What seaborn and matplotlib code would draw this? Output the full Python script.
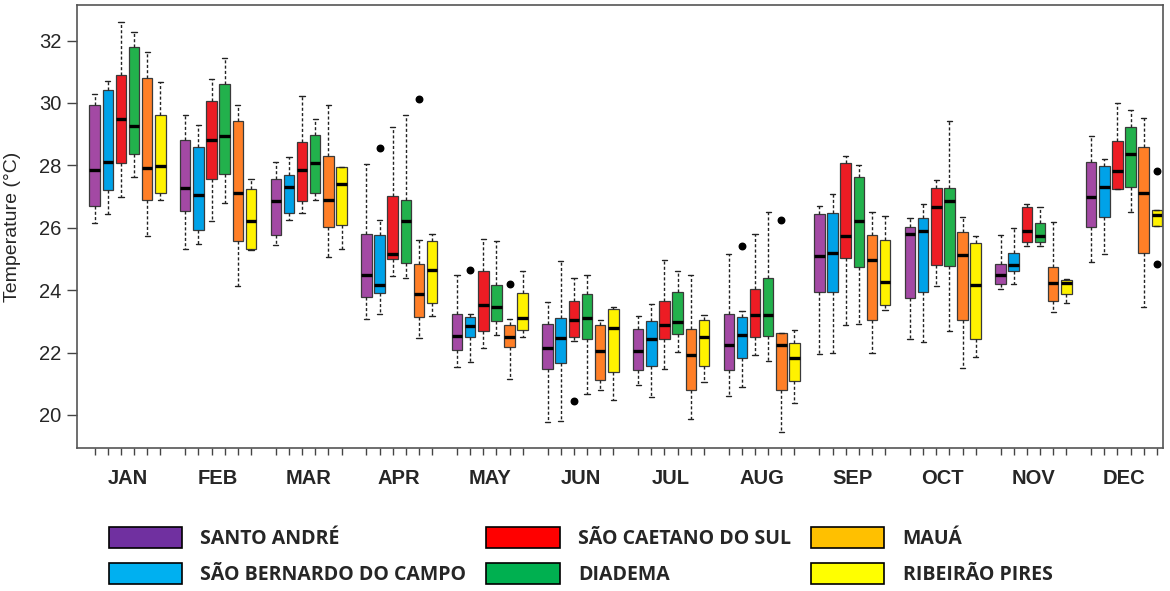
import numpy as np
import pandas as pd
import matplotlib
matplotlib.use('Agg')
import matplotlib.pyplot as plt
from matplotlib.patches import Patch
import seaborn as sns

# Months and cities (hue order)
months = ['JAN', 'FEB', 'MAR', 'APR', 'MAY', 'JUN', 'JUL', 'AUG', 'SEP', 'OCT', 'NOV', 'DEC']
cities = ['SANTO ANDRÉ', 'SÃO BERNARDO DO CAMPO', 'SÃO CAETANO DO SUL',
          'DIADEMA', 'MAUÁ', 'RIBEIRÃO PIRES']

box_colors = ['#A349A4', '#00A2E8', '#ED1C24', '#22B14C', '#FF7F27', '#FFF200']
legend_colors = ['#7030A0', '#00B0F0', '#FF0000', '#00B050', '#FFC000', '#FFFF00']

# Box statistics, one row per month, one column per city
whisker_lo = [
    [26.16, 26.44, 27.00, 27.63, 25.75, 26.89],
    [25.33, 25.49, 26.21, 26.80, 24.13, 25.30],
    [25.45, 26.26, 26.46, 26.88, 25.06, 25.33],
    [23.08, 23.25, 24.45, 24.40, 22.46, 23.18],
    [21.54, 21.71, 22.14, 22.55, 21.14, 22.51],
    [19.76, 19.81, 22.37, 20.67, 20.80, 20.49],
    [20.96, 20.56, 21.46, 22.02, 19.88, 21.07],
    [20.60, 20.89, 21.92, 21.73, 19.46, 20.37],
    [21.96, 22.00, 22.89, 22.93, 21.97, 23.35],
    [22.42, 22.34, 24.13, 22.69, 21.50, 21.85],
    [24.03, 24.20, 25.42, 25.42, 23.30, 23.60],
    [24.90, 25.17, 27.24, 26.51, 23.45, 26.05],
]
q1 = [
    [26.71, 27.20, 28.09, 28.36, 26.89, 27.10],
    [26.54, 25.92, 27.56, 27.73, 25.58, 25.33],
    [25.77, 26.46, 26.86, 27.10, 26.02, 26.09],
    [23.78, 23.92, 24.99, 24.86, 23.14, 23.58],
    [22.08, 22.51, 22.70, 23.00, 22.19, 22.73],
    [21.48, 21.65, 22.50, 22.44, 21.11, 21.37],
    [21.44, 21.57, 22.44, 22.58, 20.80, 21.57],
    [21.45, 21.81, 22.50, 22.54, 20.80, 21.08],
    [23.95, 23.95, 25.02, 24.73, 23.04, 23.52],
    [23.76, 23.93, 24.81, 24.77, 23.04, 22.42],
    [24.21, 24.61, 25.53, 25.55, 23.65, 23.87],
    [26.02, 26.34, 27.25, 27.30, 25.20, 26.05],
]
median = [
    [27.84, 28.11, 29.50, 29.27, 27.92, 27.97],
    [27.29, 27.05, 28.80, 28.95, 27.12, 26.23],
    [26.87, 27.30, 27.85, 28.09, 26.89, 27.39],
    [24.47, 24.18, 25.17, 26.22, 23.87, 24.66],
    [22.52, 22.85, 23.51, 23.47, 22.50, 23.12],
    [22.14, 22.46, 23.04, 23.10, 22.06, 22.80],
    [22.06, 22.43, 22.87, 22.99, 21.91, 22.49],
    [22.24, 22.56, 23.21, 23.21, 22.24, 21.84],
    [25.09, 25.18, 25.72, 26.21, 24.96, 24.26],
    [25.79, 25.91, 26.65, 26.87, 25.12, 24.16],
    [24.47, 24.80, 25.91, 25.75, 24.24, 24.24],
    [27.00, 27.30, 27.83, 28.37, 27.10, 26.42],
]
q3 = [
    [29.94, 30.42, 30.89, 31.81, 30.81, 29.61],
    [28.81, 28.58, 30.05, 30.61, 29.41, 27.24],
    [27.57, 27.70, 28.75, 28.98, 28.29, 27.94],
    [25.81, 25.76, 27.03, 26.90, 24.85, 25.57],
    [23.22, 23.14, 24.61, 24.17, 22.89, 23.92],
    [22.93, 23.10, 23.65, 23.89, 22.89, 23.40],
    [22.74, 23.01, 23.65, 23.94, 22.74, 23.03],
    [23.25, 23.13, 24.04, 24.38, 22.61, 22.32],
    [26.44, 26.46, 28.08, 27.63, 25.78, 25.62],
    [26.03, 26.30, 27.26, 27.26, 25.86, 25.50],
    [24.85, 25.18, 26.67, 26.14, 24.74, 24.32],
    [28.11, 27.97, 28.77, 29.23, 28.59, 26.56],
]
whisker_hi = [
    [30.29, 30.72, 32.58, 32.28, 31.63, 30.67],
    [29.62, 29.29, 30.76, 31.44, 29.93, 27.57],
    [28.11, 28.26, 30.23, 29.50, 29.93, 27.94],
    [28.03, 26.25, 29.24, 29.62, 25.60, 25.81],
    [24.49, 23.22, 25.64, 25.59, 23.06, 24.61],
    [23.62, 24.92, 24.38, 24.48, 23.04, 23.45],
    [23.16, 23.54, 24.96, 24.60, 24.47, 23.21],
    [25.15, 23.32, 25.79, 26.50, 22.61, 22.72],
    [26.71, 27.08, 28.29, 28.01, 26.52, 26.39],
    [26.32, 26.77, 27.54, 29.43, 26.34, 25.73],
    [25.78, 26.00, 26.76, 26.68, 26.20, 24.37],
    [28.93, 28.20, 30.00, 29.78, 29.52, 26.56],
]

# Outliers
out_month = ['APR', 'APR', 'MAY', 'MAY', 'JUN', 'AUG', 'AUG', 'DEC', 'DEC']
out_city = ['SÃO BERNARDO DO CAMPO', 'MAUÁ', 'SÃO BERNARDO DO CAMPO', 'MAUÁ',
            'SÃO CAETANO DO SUL', 'SÃO BERNARDO DO CAMPO', 'MAUÁ',
            'RIBEIRÃO PIRES', 'RIBEIRÃO PIRES']
out_value = [28.56, 30.14, 24.66, 24.21, 20.45, 25.42, 26.26, 27.81, 24.84]

# Long table: five summary values per box give exact quartiles / whisker ends
rows = []
for i, m in enumerate(months):
    for j, c in enumerate(cities):
        for stat in (whisker_lo, q1, median, q3, whisker_hi):
            rows.append({'Month': m, 'City': c, 'Temperature': stat[i][j]})
df = pd.DataFrame(rows)

sns.set_style('ticks')
plt.rcParams['font.family'] = ['Liberation Sans', 'DejaVu Sans']

fig = plt.figure(figsize=(11.7, 5.91), dpi=100)
ax = fig.add_axes([0.0656, 0.2415, 0.9284, 0.7500])

box_width = 0.87
sns.boxplot(data=df, x='Month', y='Temperature', hue='City',
            order=months, hue_order=cities, palette=box_colors, saturation=1,
            width=box_width, gap=0.2, whis=np.inf, showfliers=False,
            linecolor='#3a3a3a', linewidth=0.9, legend=False, ax=ax,
            whiskerprops=dict(color='#222222', linestyle=(0, (2.2, 1.6)), linewidth=1.0),
            capprops=dict(color='#222222', linewidth=1.0),
            medianprops=dict(color='black', linewidth=2.4))

# outlier points at the dodged box positions
n = len(cities)
step = box_width / n
ox = [months.index(m) + (cities.index(c) - (n - 1) / 2) * step
      for m, c in zip(out_month, out_city)]
ax.scatter(ox, out_value, s=22, color='black', zorder=5)

# small ticks under each box
minor_pos = [i + (j - (n - 1) / 2) * step for i in range(len(months)) for j in range(n)]
ax.set_xticks(minor_pos, minor=True)

ax.set_xlim(-0.56, 11.43)
ax.set_ylim(18.93, 33.14)
ax.set_yticks(range(20, 33, 2))
ax.set_xlabel('')
ax.set_ylabel('Temperature (°C)', fontsize=14)
ax.yaxis.set_label_coords(-0.051, 0.5)

ax.tick_params(axis='x', which='major', length=0, pad=15, labelsize=14.5)
ax.tick_params(axis='x', which='minor', length=5, width=1, color='#444444')
ax.tick_params(axis='y', length=7, width=1, color='#444444', labelsize=14.5, pad=4)
for lab in ax.get_xticklabels():
    lab.set_fontweight('bold')
for s in ax.spines.values():
    s.set_color('#555555')
    s.set_linewidth(1.2)

handles = [Patch(facecolor=c, edgecolor='black', linewidth=1.2, label=name)
           for c, name in zip(legend_colors, cities)]
fig.legend(handles=handles, loc='upper left', bbox_to_anchor=(0.093, 0.108),
           ncol=3, frameon=False,
           prop=dict(family='Open Sans', weight='bold', size=14),
           handlelength=3.76, handleheight=1.29, handletextpad=0.95,
           columnspacing=1.03, labelspacing=0.69, borderpad=0, borderaxespad=0)

fig.savefig('out.png', dpi=100)
